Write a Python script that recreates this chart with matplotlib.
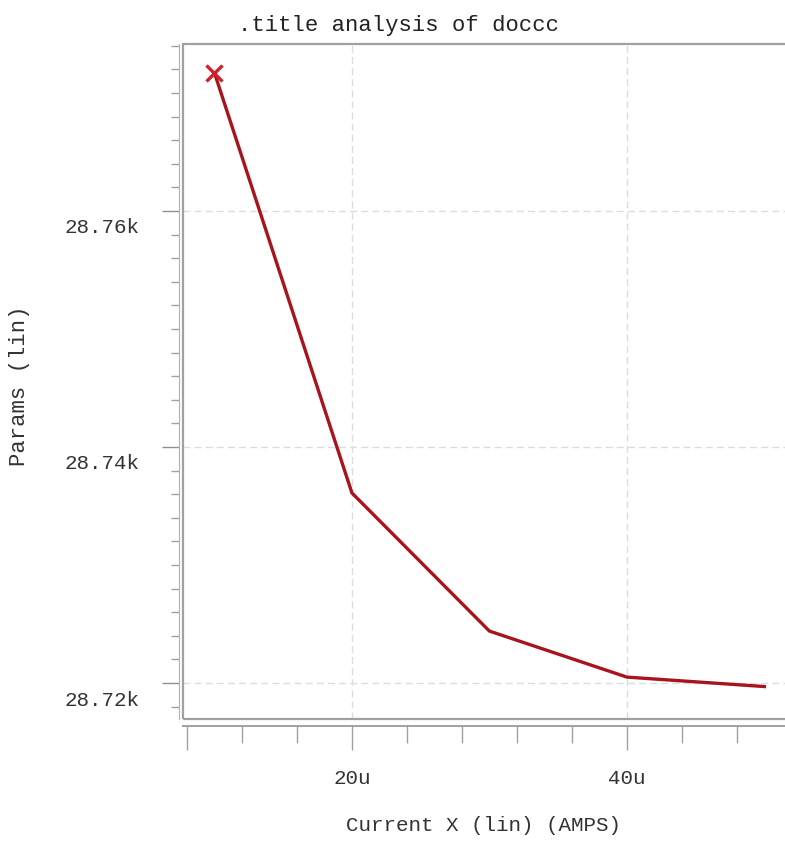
import matplotlib.pyplot as plt
from matplotlib.patches import Rectangle
from matplotlib.transforms import ScaledTranslation
from matplotlib.ticker import MultipleLocator, FixedLocator

# data
current_x = [10e-6, 20e-6, 30e-6, 40e-6, 50e-6]
params = [28771.7, 28736.1, 28724.4, 28720.5, 28719.7]

x_major = [8e-6, 20e-6, 40e-6]
x_major_labels = ['', '20u', '40u']
y_major = [28720, 28740, 28760]
y_major_labels = ['28.72k', '28.74k', '28.76k']

FONT = 'Liberation Mono'
plt.rcParams['font.family'] = FONT

fig = plt.figure(figsize=(7.85, 8.52), dpi=100)
ax = fig.add_axes([183/785, 1 - 719/852, 1 - 183/785, (719 - 44)/852])

ax.plot(current_x, params, color='#a8141c', lw=2.4, zorder=3)
ax.plot(current_x[0], params[0], marker='x', color='#d4202a',
        ms=11, mew=2.4, ls='none', zorder=4)

ax.set_xlim(7.71e-6, 51.5e-6)
ax.set_ylim(28716.95, 28774.15)

# box around the plot area
for s in ['top', 'right']:
    ax.spines[s].set_visible(False)
ax.add_patch(Rectangle((0, 0), 1.02, 1, transform=ax.transAxes, fill=False,
                       ec='#a0a0a0', lw=1.6, clip_on=False, zorder=5))
ax.spines['left'].set_position(('outward', 3))
ax.spines['bottom'].set_position(('outward', 5))
ax.spines['left'].set_color('#b0b0b0')
ax.spines['bottom'].set_color('#a0a0a0')
ax.spines['bottom'].set_linewidth(1.4)

ax.xaxis.set_major_locator(FixedLocator(x_major))
ax.set_xticklabels(x_major_labels)
ax.xaxis.set_minor_locator(MultipleLocator(4e-6))
ax.yaxis.set_major_locator(FixedLocator(y_major))
ax.set_yticklabels(y_major_labels)
ax.yaxis.set_minor_locator(MultipleLocator(2))

ax.tick_params(axis='x', which='major', length=17, width=1, color='#a0a0a0',
               labelsize=15, pad=14, labelcolor='#333333')
ax.tick_params(axis='x', which='minor', length=12, width=1, color='#a0a0a0')
ax.tick_params(axis='y', which='major', length=12, width=1, color='#909090',
               labelsize=15, pad=16, labelcolor='#333333')
ax.tick_params(axis='y', which='minor', length=6, width=1, color='#a0a0a0')

# y tick labels sit a bit below their ticks in the reference
shift = ScaledTranslation(0, -0.15, fig.dpi_scale_trans)
for lab in ax.get_yticklabels():
    lab.set_transform(lab.get_transform() + shift)

for xv in x_major[1:]:
    ax.axvline(xv, color='#dcdcdc', lw=1, ls=(0, (5, 3)), zorder=1)
for yv in y_major:
    ax.axhline(yv, color='#dcdcdc', lw=1, ls=(0, (5, 3)), zorder=1)

ax.set_xlabel('Current X (lin) (AMPS)', fontsize=15, color='#333333', labelpad=20)
fig.text(20/785, 1 - 386/852, 'Params (lin)', rotation=90, fontsize=16,
         color='#333333', ha='center', va='center')
fig.text(398/785, 1 - 25/852, '.title analysis of doccc', fontsize=16,
         color='#222222', ha='center', va='center')

fig.savefig('out.png', dpi=100)
